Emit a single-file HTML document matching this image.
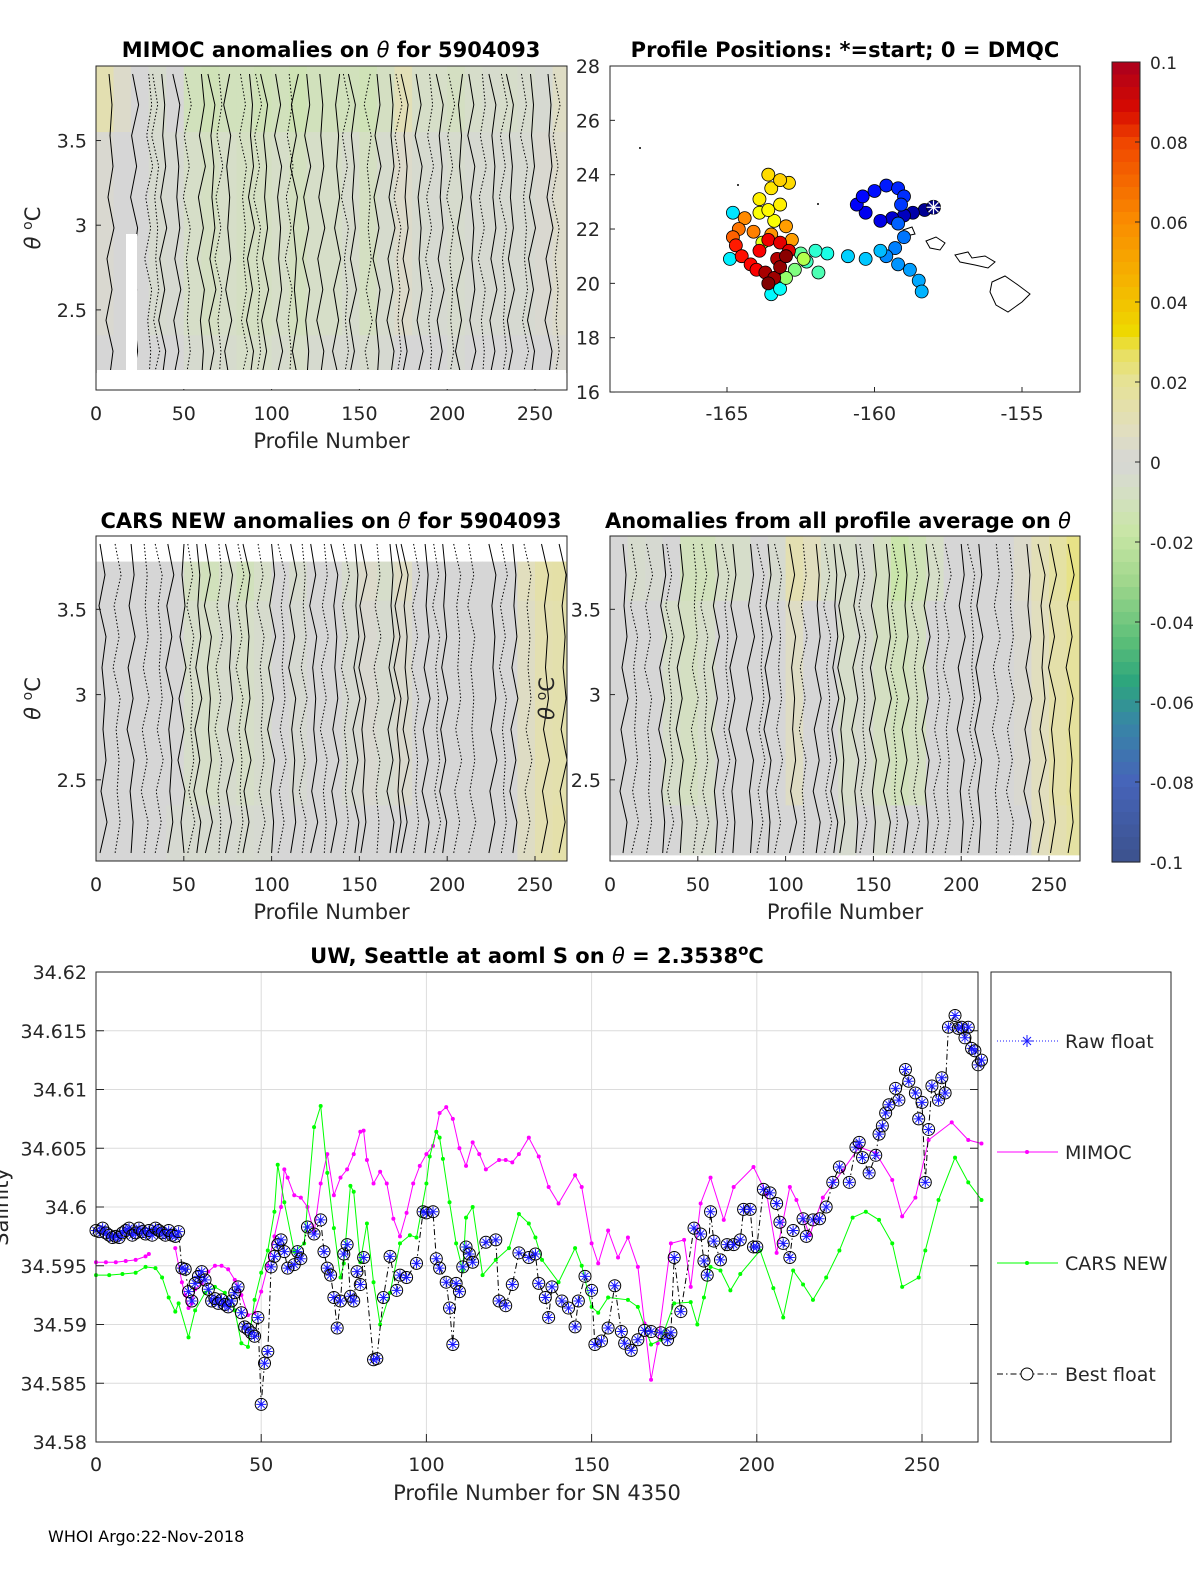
<!DOCTYPE html>
<html><head><meta charset="utf-8"><style>
body{margin:0;background:#fff;}
svg{display:block;font-family:"DejaVu Sans","Liberation Sans",sans-serif;}
</style></head><body>
<svg id="fig" width="1200" height="1575" viewBox="0 0 1200 1575" xmlns="http://www.w3.org/2000/svg">
<rect width="1200" height="1575" fill="#fff"/>
<g id="p1"></g>
<g id="p2"></g>
<g id="p3"></g>
<g id="p4"></g>
<g id="cb"></g>
<g id="p5"></g>
<text x="331" y="57" text-anchor="middle" font-size="21" font-weight="bold">MIMOC anomalies on <tspan font-style="italic" font-weight="normal">θ</tspan>  for 5904093</text>
<text x="845" y="57" text-anchor="middle" font-size="21" font-weight="bold">Profile Positions: *=start; 0 = DMQC</text>
<text x="331" y="528" text-anchor="middle" font-size="21" font-weight="bold">CARS NEW anomalies on <tspan font-style="italic" font-weight="normal">θ</tspan> for 5904093</text>
<text x="838" y="528" text-anchor="middle" font-size="21" font-weight="bold">Anomalies from all profile average on <tspan font-style="italic" font-weight="normal">θ</tspan></text>
<text x="537" y="963" text-anchor="middle" font-size="21" font-weight="bold">UW, Seattle at aoml S on <tspan font-style="italic" font-weight="normal">θ</tspan> = 2.3538<tspan dy="-8" font-size="15">o</tspan><tspan dy="8">C</tspan></text>
<text x="48" y="1542" font-size="16">WHOI Argo:22-Nov-2018</text>
</svg>
<script>
// ---------- data ----------
const bandStart = [0,10,20,30,40,50,60,70,80,90,100,110,120,130,140,150,160,170,180,190,200,210,220,230,240,250,260];
const mimocTop = [0.012,0.004,0,-0.004,0,-0.01,-0.012,-0.01,-0.01,-0.012,-0.01,-0.013,-0.01,-0.01,-0.01,-0.012,-0.008,0.01,-0.006,-0.006,-0.008,-0.005,-0.004,-0.005,-0.004,-0.002,0.006];
const mimocMid = [0.002,0,0,-0.003,-0.002,-0.006,-0.008,-0.006,-0.008,-0.008,-0.006,-0.009,-0.006,-0.006,-0.004,-0.008,-0.004,0.004,-0.003,-0.002,-0.004,-0.002,-0.002,-0.002,-0.002,0.002,0.004];
const mimocBot = [0,0,0,0,0,-0.003,-0.004,-0.004,-0.006,-0.006,-0.004,-0.006,-0.003,-0.002,-0.002,-0.004,-0.002,0,0,0,-0.002,0,0,0,0,0,0.002];
const carsTop = [0,0,0,0,0,-0.008,-0.01,-0.006,-0.01,-0.006,0,-0.004,0,0,-0.004,0.004,-0.005,0.006,0,0,0,0,0,0,0.008,0.014,0.015];
const carsMid = [0,0,0,0,0,-0.005,-0.006,-0.004,-0.006,-0.004,0,-0.002,0,0,-0.002,0.002,-0.003,0.003,0,0,0,0,0,0,0.006,0.012,0.013];
const carsBot = [0,0,0,0,-0.002,-0.003,-0.003,-0.002,-0.003,-0.002,0,0,0,0,0,0,0,0,0,0,0,0,0,0,0.006,0.012,0.014];
const avgTop = [0,-0.004,-0.002,0,-0.01,-0.01,-0.006,-0.005,0,-0.003,0.012,0.008,-0.005,-0.005,-0.003,-0.008,-0.016,-0.012,-0.006,0,0,0,0,0.004,0.01,0.016,0.022];
const avgMid = [0,0,0,-0.005,-0.008,-0.005,0,0,0,0,0.006,0,0,-0.005,-0.003,-0.008,-0.01,-0.008,0,0,0,0,0,0.002,0.008,0.014,0.018];
const avgBot = [0,0,0,0,-0.003,-0.003,0,0,0,0,0,0,0,-0.003,0,-0.003,0,0,0,0,0,0,0,0,0.008,0.012,0.016];
const mimocSolid = [8,22,38,46,60,66,75,88,96,104,113,120,128,137,146,160,168,176,184,196,207,214,226,236,248,258];
const mimocDot = [30,34,52,70,84,92,110,142,155,172,190,202,220,232,244,262];
const carsSolid = [4,20,42,49,58,64,76,86,100,112,124,136,148,152,168,172,176,188,198,226,238,256,266];
const carsDot = [12,28,36,54,70,82,94,106,118,130,142,160,182,194,206,214,232,246];
const avgSolid = [8,30,40,60,70,80,90,104,118,128,132,140,150,158,168,180,200,210,238,246,252,262];
const avgDot = [14,22,34,48,54,66,86,96,110,124,144,162,174,186,192,206,220,228];
const yTicksTheta = [2.5,3,3.5];
const xTicksProf = [0,50,100,150,200,250];

const mapLon = [-158.3,-158.7,-159.0,-159.4,-159.8,-160.3,-160.6,-160.4,-160.0,-159.6,-159.2,-159.0,-159.1,
 -159.2,-159.0,-159.3,-159.6,-159.2,-158.8,-158.5,-158.4,-159.8,-160.3,-160.9,
 -164.8,-164.9,-163.5,-163.2,
 -161.6,-162.0,-162.3,-161.9,-162.5,-162.7,-163.0,-162.4,
 -163.8,-163.4,-163.6,-163.9,-163.5,-163.6,-163.2,-162.9,-163.2,-163.9,
 -162.8,-163.0,-163.5,-164.4,-164.1,-164.6,-164.8,
 -164.7,-164.5,-164.2,-163.9,-163.6,-163.2,-162.9,-164.0,
 -163.3,-163.7,-163.4,-163.2,-163.0,-163.6];
const mapLat = [22.7,22.6,22.5,22.4,22.3,22.6,22.9,23.2,23.4,23.6,23.5,23.2,22.9,
 22.2,21.7,21.3,21.0,20.7,20.5,20.1,19.7,21.2,20.9,21.0,
 22.6,20.9,19.6,19.8,
 21.1,21.2,20.8,20.4,21.1,20.5,20.2,20.9,
 21.5,22.3,22.7,23.1,23.5,24.0,23.8,23.7,22.9,22.6,
 21.6,22.1,21.8,22.4,21.9,22.0,21.7,
 21.4,21.0,20.7,21.2,21.6,21.5,21.2,20.5,
 20.9,20.4,20.2,20.6,21.0,20.0];
const mapVal = [0.02,0.04,0.06,0.08,0.10,0.11,0.12,0.13,0.14,0.15,0.16,0.17,0.18,
 0.22,0.24,0.25,0.26,0.27,0.28,0.29,0.30,0.31,0.32,0.33,
 0.35,0.36,0.37,0.38,
 0.40,0.42,0.44,0.45,0.47,0.50,0.52,0.55,
 0.60,0.62,0.63,0.64,0.65,0.66,0.67,0.66,0.64,0.62,
 0.72,0.72,0.73,0.74,0.75,0.76,0.78,
 0.85,0.86,0.87,0.88,0.89,0.90,0.90,0.88,
 0.95,0.96,0.97,0.98,0.99,1.0];
const startLon = -158.0, startLat = 22.8;
const mapXTicks = [-165,-160,-155];
const mapYTicks = [16,18,20,22,24,26,28];
const cbTicks = [-0.1,-0.08,-0.06,-0.04,-0.02,0,0.02,0.04,0.06,0.08,0.1];
const cbLabels = ["-0.1","-0.08","-0.06","-0.04","-0.02","0","0.02","0.04","0.06","0.08","0.1"];

const mimocP = [0,3,6,9,12,15,16,null,24,26,27,28,29,30,32,34,36,38,40,42,44,46,48,50,52,54,56,57,58,60,62,64,66,68,70,72,74,76,78,80,81,82,84,86,88,90,92,94,96,98,100,102,104,106,108,110,112,114,116,118,122,124,126,128,131,134,137,140,145,147,150,152,155,158,161,164,166,168,170,174,178,180,183,186,190,193,199,203,206,210,212,216,220,226,231,236,241,244,248,252,259,264,268];
const mimocS = [34.5953,34.5953,34.5953,34.5954,34.5955,34.5958,34.5960,null,34.5965,34.5936,34.5925,34.5914,34.5918,34.5930,34.5935,34.5945,34.5950,34.5950,34.5947,34.5938,34.5925,34.5908,34.5910,34.5928,34.5950,34.5975,34.6000,34.6032,34.6025,34.6010,34.6008,34.6000,34.5978,34.6020,34.6045,34.6010,34.6025,34.6032,34.6045,34.6064,34.6065,34.6040,34.6020,34.6030,34.6020,34.5990,34.5975,34.5995,34.6020,34.6035,34.6045,34.6052,34.6080,34.6085,34.6075,34.6050,34.6035,34.6055,34.6045,34.6032,34.6040,34.6040,34.6038,34.6045,34.6059,34.6043,34.6017,34.6003,34.6027,34.6017,34.5969,34.5952,34.5980,34.5957,34.5974,34.5949,34.5901,34.5853,34.5884,34.5969,34.5972,34.5932,34.6003,34.6025,34.5989,34.6017,34.6034,34.6011,34.5961,34.6017,34.6006,34.5976,34.6008,34.6031,34.6051,34.6046,34.6023,34.5992,34.6008,34.6057,34.6072,34.6057,34.6054];
const carsP = [0,4,8,12,15,18,20,22,24,25,28,30,33,36,39,42,44,46,48,50,52,54,55,57,60,63,66,68,70,72,74,75,77,78,80,82,84,86,89,92,95,97,100,101,103,104,105,107,109,111,112,114,117,121,125,128,131,133,135,140,145,147,150,152,155,161,164,168,171,175,180,182,184,186,189,192,195,201,205,208,211,214,217,221,225,229,233,237,241,244,249,251,255,260,264,268];
const carsS = [34.5942,34.5942,34.5943,34.5944,34.5949,34.5948,34.5940,34.5923,34.5911,34.5918,34.5889,34.5912,34.5927,34.5932,34.5927,34.5912,34.5884,34.5881,34.5921,34.5944,34.5963,34.5996,34.6036,34.6004,34.5962,34.5969,34.6068,34.6086,34.6029,34.5982,34.5940,34.5952,34.6018,34.6013,34.5953,34.5986,34.5936,34.5900,34.5927,34.5969,34.5976,34.5974,34.6020,34.6043,34.6064,34.6059,34.6041,34.6004,34.5969,34.5946,34.5991,34.6000,34.5942,34.5955,34.5965,34.5994,34.5986,34.5974,34.5955,34.5936,34.5965,34.5950,34.5915,34.5910,34.5923,34.5921,34.5915,34.5883,34.5887,34.5918,34.5919,34.5900,34.5923,34.5949,34.5946,34.5929,34.5943,34.5963,34.5931,34.5906,34.5946,34.5934,34.5921,34.5940,34.5963,34.5991,34.5996,34.5989,34.5969,34.5932,34.5940,34.5963,34.6006,34.6042,34.6021,34.6006];
const bestP = [0,1,2,3,4,5,6,7,8,9,10,11,12,13,14,15,16,17,18,19,20,21,22,23,24,25,26,27,28,29,30,31,32,33,34,35,36,37,38,39,40,41,42,43,44,45,46,47,48,49,50,51,52,53,54,55,56,57,58,60,61,62,64,66,68,69,70,71,72,73,74,75,76,77,78,79,80,81,84,85,87,89,91,92,94,97,99,100,102,103,104,106,107,108,109,110,111,112,113,114,118,121,122,124,126,128,131,133,134,136,137,138,141,143,145,146,148,150,151,153,155,157,159,160,162,164,166,168,171,173,174,175,177,181,183,184,185,186,187,189,191,193,195,196,198,199,200,202,204,206,207,208,210,211,214,215,217,219,221,223,225,228,230,231,232,234,236,237,238,239,240,242,243,245,246,248,249,250,251,252,253,255,256,257,258,260,261,262,263,264,265,266,267,268];
const bestS = [34.5980,34.5979,34.5982,34.5978,34.5976,34.5974,34.5975,34.5974,34.5978,34.5980,34.5982,34.5976,34.5978,34.5982,34.5979,34.5977,34.5980,34.5976,34.5982,34.5980,34.5978,34.5976,34.5980,34.5976,34.5975,34.5979,34.5948,34.5947,34.5928,34.5920,34.5935,34.5941,34.5945,34.5938,34.5930,34.5920,34.5922,34.5918,34.5921,34.5917,34.5915,34.5920,34.5927,34.5932,34.5910,34.5898,34.5896,34.5893,34.5890,34.5906,34.5832,34.5867,34.5877,34.5949,34.5958,34.5968,34.5972,34.5962,34.5948,34.5951,34.5962,34.5956,34.5983,34.5977,34.5989,34.5962,34.5948,34.5942,34.5923,34.5897,34.5920,34.5960,34.5968,34.5924,34.5920,34.5945,34.5934,34.5957,34.5870,34.5871,34.5923,34.5958,34.5929,34.5942,34.5940,34.5952,34.5996,34.5995,34.5996,34.5956,34.5948,34.5936,34.5914,34.5883,34.5935,34.5928,34.5949,34.5966,34.5960,34.5953,34.5970,34.5972,34.5920,34.5916,34.5934,34.5961,34.5957,34.5960,34.5935,34.5923,34.5906,34.5932,34.5920,34.5914,34.5898,34.5920,34.5941,34.5929,34.5883,34.5886,34.5897,34.5933,34.5894,34.5884,34.5878,34.5887,34.5895,34.5894,34.5893,34.5887,34.5893,34.5957,34.5911,34.5982,34.5977,34.5954,34.5942,34.5996,34.5971,34.5955,34.5968,34.5968,34.5972,34.5998,34.5998,34.5966,34.5966,34.6015,34.6012,34.6003,34.5987,34.5969,34.5957,34.5980,34.5990,34.5975,34.5989,34.5990,34.6000,34.6021,34.6034,34.6021,34.6051,34.6055,34.6042,34.6029,34.6044,34.6062,34.6069,34.6080,34.6087,34.6101,34.6091,34.6117,34.6107,34.6097,34.6075,34.6089,34.6021,34.6066,34.6103,34.6091,34.6110,34.6097,34.6153,34.6163,34.6152,34.6153,34.6144,34.6153,34.6135,34.6133,34.6121,34.6125,34.6124];
const salYTicks = [34.58,34.585,34.59,34.595,34.6,34.605,34.61,34.615,34.62];
const salYLabels = ["34.58","34.585","34.59","34.595","34.6","34.605","34.61","34.615","34.62"];
const salXTicks = [0,50,100,150,200,250];

// ---------- helpers ----------
const NS = "http://www.w3.org/2000/svg";
function mk(parent, tag, attrs){const e=document.createElementNS(NS,tag);for(const k in attrs)e.setAttribute(k,attrs[k]);parent.appendChild(e);return e;}
function txt(parent, x, y, s, size, anchor){const t=mk(parent,"text",{x:x,y:y,"font-size":size,"text-anchor":anchor||"middle",fill:"#262626"});t.textContent=s;return t;}
const cmStops=[[-0.1,[60,82,140]],[-0.08,[70,100,185]],[-0.065,[55,135,165]],[-0.055,[45,165,125]],[-0.045,[90,190,120]],[-0.03,[160,215,140]],[-0.018,[200,230,165]],[-0.006,[214,222,200]],[0,[214,214,214]],[0.008,[225,222,190]],[0.02,[230,226,150]],[0.028,[232,224,90]],[0.032,[238,218,0]],[0.045,[245,180,0]],[0.06,[250,140,0]],[0.08,[240,70,0]],[0.088,[215,10,0]],[0.1,[170,0,30]]];
function cmap(v){v=Math.max(-0.1,Math.min(0.1,v));for(let i=1;i<cmStops.length;i++){if(v<=cmStops[i][0]){const a=cmStops[i-1],b=cmStops[i],t=(v-a[0])/(b[0]-a[0]);const c=a[1].map((x,j)=>Math.round(x+(b[1][j]-x)*t));return "rgb("+c.join(",")+")";}}return "rgb(170,0,30)";}
function jet(t){t=Math.max(0,Math.min(1,t));const f=x=>Math.round(255*Math.max(0,Math.min(1,x)));return "rgb("+f(1.5-Math.abs(4*t-3))+","+f(1.5-Math.abs(4*t-2))+","+f(1.5-Math.abs(4*t-1))+")";}

// ---------- heatmap panels ----------
function heatPanel(g, X0, Y0, W, H, tmin, tmax, top, mid, bot, solid, dot, yLabX, thetaLabX, bottomTheta, topTheta){
  const xs=p=>X0+p*1.756, ys=t=>Y0+H-(t-tmin)/(tmax-tmin)*H;
  const rowsT=[topTheta,3.55,2.9,2.35,bottomTheta];
  const rows=[top,mid,mid,bot];
  for(let r=0;r<4;r++){
    for(let i=0;i<bandStart.length;i++){
      const x1=xs(bandStart[i]), x2=Math.min(xs(bandStart[i]+10),X0+W);
      const yy1=ys(rowsT[r]), yy2=ys(rowsT[r+1]);
      const c=mk(g,"rect",{x:x1,y:yy1,width:x2-x1+0.5,height:yy2-yy1+0.5,fill:cmap(rows[r][i])});
      
      
    }
  }
  const wig=[0,3,-2,4,-3,2,-4,3,-1,2];
  function contour(p, dash){
    let d="";const n=wig.length;
    for(let k=0;k<=n;k++){const y=Y0+8+k*(H-16)/n;const x=xs(p)+wig[(k+Math.round(p))%n];d+=(k?"L":"M")+x.toFixed(1)+","+y.toFixed(1);}
    const e=mk(g,"path",{d:d,fill:"none",stroke:"#000","stroke-width":1,"stroke-dasharray":dash?"1.5,2":"none"});
    
    
  }
  solid.forEach(p=>contour(p,false));
  dot.forEach(p=>contour(p,true));
  mk(g,"rect",{x:X0,y:Y0,width:W,height:H,fill:"none",stroke:"#262626","stroke-width":1});
  yTicksTheta.forEach(t=>{const y=ys(t);mk(g,"line",{x1:X0,y1:y,x2:X0+5,y2:y,stroke:"#262626"});const l=txt(g,yLabX,y+7,String(t),19,"end");});
  xTicksProf.forEach(p=>{const x=xs(p);mk(g,"line",{x1:x,y1:Y0+H,x2:x,y2:Y0+H-5,stroke:"#262626"});const l=txt(g,x,Y0+H+30,String(p),19);});
  const xl=txt(g,X0+W/2,Y0+H+58,"Profile Number",21);
  const yl=mk(g,"text",{x:0,y:0,"font-size":21,"text-anchor":"middle",fill:"#262626",transform:"translate("+thetaLabX+","+(Y0+H/2)+") rotate(-90)"});
  yl.innerHTML='<tspan font-style="italic">θ</tspan> <tspan dy="-8" font-size="14">o</tspan><tspan dy="8">C</tspan>';
  
}
heatPanel(document.getElementById("p1"),96,66,471,324,2.027,3.94,mimocTop,mimocMid,mimocBot,mimocSolid,mimocDot,87,40,2.13,3.94);
heatPanel(document.getElementById("p3"),96,536,471,325,2.024,3.93,carsTop,carsMid,carsBot,carsSolid,carsDot,87,40,2.024,3.78);
heatPanel(document.getElementById("p4"),610,536,470,325,2.024,3.93,avgTop,avgMid,avgBot,avgSolid,avgDot,601,554,2.06,3.93);
mk(document.getElementById("p1"),"rect",{x:126,y:234,width:11,height:155,fill:"#fff"});
mk(document.getElementById("p1"),"rect",{x:97,y:370,width:469,height:19,fill:"#fff"});

// ---------- map ----------
(function(){
  const g=document.getElementById("p2");
  const X0=610,Y0=66,W=470,H=326;
  const xs=lon=>727+(lon+165)*29.5, ys=lat=>Y0+(28-lat)*27.17;
  const isl=[[[926,241],[936,237],[945,243],[940,250],[930,248]],[[955,255],[968,252],[972,258],[985,256],[995,262],[988,268],[975,265],[960,262]],[[992,282],[1005,276],[1018,285],[1030,294],[1022,302],[1008,312],[996,305],[990,292]],[[903,230],[912,227],[915,234],[906,236]]];
  isl.forEach(pts=>{const e=mk(g,"polygon",{points:pts.map(p=>p.join(",")).join(" "),fill:"none",stroke:"#000","stroke-width":1});});
  mk(g,"circle",{cx:640,cy:148,r:1,fill:"#000"});mk(g,"circle",{cx:738,cy:185,r:1,fill:"#000"});mk(g,"circle",{cx:818,cy:204,r:1,fill:"#000"});
  const idx=mapVal.map((v,i)=>i).sort((a,b)=>mapVal[a]-mapVal[b]);
  idx.forEach(i=>{
    const c=mk(g,"circle",{cx:xs(mapLon[i]),cy:ys(mapLat[i]),r:6.5,fill:jet(mapVal[i]),stroke:"#000","stroke-width":0.8});
    
    
  });
  const sx=xs(startLon),sy=ys(startLat);
  const s=mk(g,"g",{});
  
  
  mk(s,"circle",{cx:sx,cy:sy,r:7,fill:jet(0),stroke:"#000","stroke-width":0.8});
  [0,45,90,135].forEach(a=>{const r=a*Math.PI/180;mk(s,"line",{x1:sx-7*Math.cos(r),y1:sy-7*Math.sin(r),x2:sx+7*Math.cos(r),y2:sy+7*Math.sin(r),stroke:"#fff","stroke-width":1.2});});
  mk(g,"rect",{x:X0,y:Y0,width:W,height:H,fill:"none",stroke:"#262626"});
  mapYTicks.forEach(t=>{const y=ys(t);mk(g,"line",{x1:X0,y1:y,x2:X0+5,y2:y,stroke:"#262626"});const l=txt(g,600,y+7,String(t),19,"end");});
  mapXTicks.forEach(t=>{const x=xs(t);mk(g,"line",{x1:x,y1:Y0+H,x2:x,y2:Y0+H-5,stroke:"#262626"});const l=txt(g,x,420,String(t),19);});
})();

// ---------- colorbar ----------
(function(){
  const g=document.getElementById("cb");
  const X0=1112,Y0=62,W=28,H=800;
  const ys=v=>Y0+(0.1-v)/0.2*H;
  for(let i=0;i<64;i++){const v=0.1-(i+0.5)*0.2/64;mk(g,"rect",{x:X0,y:Y0+i*H/64,width:W,height:H/64+0.6,fill:cmap(v)});}
  mk(g,"rect",{x:X0,y:Y0,width:W,height:H,fill:"none",stroke:"#262626"});
  cbTicks.forEach((t,i)=>{const y=ys(t);mk(g,"line",{x1:X0+W-5,y1:y,x2:X0+W,y2:y,stroke:"#262626"});const l=txt(g,1150,y+7,cbLabels[i],17,"start");});
})();

// ---------- salinity chart ----------
(function(){
  const g=document.getElementById("p5");
  const X0=96,Y0=972,W=882,H=470;
  const xs=p=>X0+p*3.304, ys=v=>Y0+(34.62-v)*11750;
  const yl=mk(g,"text",{x:0,y:0,"font-size":21,"text-anchor":"middle",fill:"#262626",transform:"translate(8,1207) rotate(-90)"});yl.textContent="Salinity";
  
  mk(g,"rect",{x:X0,y:Y0,width:W,height:H,fill:"#fff"});
  salYTicks.forEach((t,i)=>{const y=ys(t);mk(g,"line",{x1:X0,y1:y,x2:X0+W,y2:y,stroke:"#dcdcdc"});mk(g,"line",{x1:X0,y1:y,x2:X0+8,y2:y,stroke:"#262626"});mk(g,"line",{x1:X0+W-8,y1:y,x2:X0+W,y2:y,stroke:"#262626"});const l=txt(g,87,y+7,salYLabels[i],19,"end");});
  salXTicks.forEach(p=>{const x=xs(p);mk(g,"line",{x1:x,y1:Y0,x2:x,y2:Y0+H,stroke:"#dcdcdc"});mk(g,"line",{x1:x,y1:Y0+H,x2:x,y2:Y0+H-8,stroke:"#262626"});const l=txt(g,x,1471,String(p),19);});
  function line(P,S,color,dash,name){
    let d="",pen=false;
    for(let i=0;i<P.length;i++){if(P[i]===null){pen=false;continue;}d+=(pen?"L":"M")+xs(P[i]).toFixed(1)+","+ys(S[i]).toFixed(1);pen=true;}
    const e=mk(g,"path",{d:d,fill:"none",stroke:color,"stroke-width":1,"stroke-dasharray":dash});
    
    
  }
  line(mimocP,mimocS,"#ff00ff","none","mimoc-line");
  for(let i=0;i<mimocP.length;i++){if(mimocP[i]===null)continue;const c=mk(g,"circle",{cx:xs(mimocP[i]),cy:ys(mimocS[i]),r:2,fill:"#ff00ff"});}
  line(carsP,carsS,"#00ff00","none","cars-line");
  for(let i=0;i<carsP.length;i++){const c=mk(g,"circle",{cx:xs(carsP[i]),cy:ys(carsS[i]),r:2,fill:"#00ff00"});}
  line(bestP,bestS,"#000","6,3,1.5,3","best-float-line");
  for(let i=0;i<bestP.length;i++){
    const x=xs(bestP[i]),y=ys(bestS[i]);
    const m=mk(g,"g",{});
    
    
    mk(m,"circle",{cx:x,cy:y,r:6,fill:"none",stroke:"#000","stroke-width":1});
    mk(m,"path",{d:"M"+(x-5)+","+y+"h10M"+x+","+(y-5)+"v10M"+(x-3.5)+","+(y-3.5)+"l7,7M"+(x-3.5)+","+(y+3.5)+"l7,-7",stroke:"#1a1aff","stroke-width":1});
  }
  mk(g,"rect",{x:X0,y:Y0,width:W,height:H,fill:"none",stroke:"#262626"});
  const xl=txt(g,537,1500,"Profile Number for SN 4350",21);
  const L=mk(g,"g",{});
  
  
  mk(L,"rect",{x:991,y:972,width:180,height:470,fill:"#fff",stroke:"#262626"});
  const ent=[["Raw float",1041,"#1a1aff","1,2"],["MIMOC",1152,"#ff00ff","none"],["CARS NEW",1263,"#00ff00","none"],["Best float",1374,"#000","6,3,1.5,3"]];
  ent.forEach((e,i)=>{
    const eg=mk(L,"g",{});
    
    
    mk(eg,"line",{x1:997,y1:e[1],x2:1058,y2:e[1],stroke:e[2],"stroke-dasharray":e[3]});
    if(i===0){mk(eg,"path",{d:"M1021,1041h12M1027,1035v12M1023,1037l8,8M1023,1045l8,-8",stroke:"#1a1aff"});}
    if(i===1||i===2){mk(eg,"circle",{cx:1027,cy:e[1],r:2,fill:e[2]});}
    if(i===3){mk(eg,"circle",{cx:1027,cy:e[1],r:6,fill:"#fff",stroke:"#000"});}
    txt(eg,1065,e[1]+7,e[0],19,"start");
  });
})();
</script>
</body></html>
